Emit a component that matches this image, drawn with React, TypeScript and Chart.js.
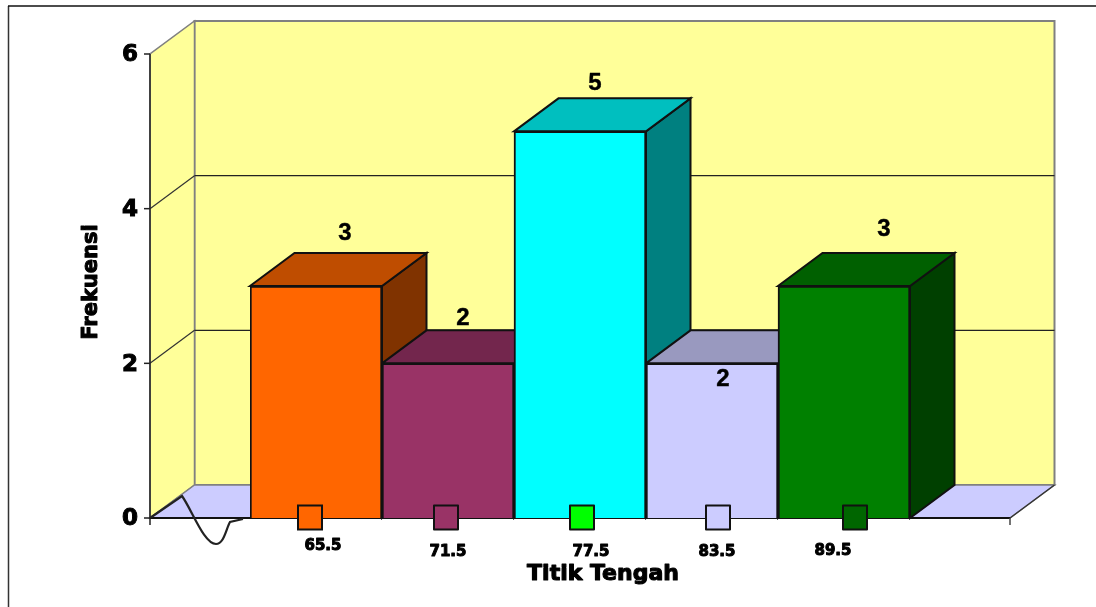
import React, { useEffect, useRef } from "react";
import { Chart, registerables } from "chart.js";

Chart.register(...registerables);

const categories = ["65.5", "71.5", "77.5", "83.5", "89.5"];
const frequencies = [3, 2, 5, 2, 3];
const yTicks = [0, 2, 4, 6];

// Faces of each column: front, top, right side
const frontColors = ["#FF6600", "#993366", "#00FFFF", "#CCCCFF", "#008000"];
const topColors = ["#BF4D00", "#73264D", "#00BFBF", "#9999BF", "#006000"];
const sideColors = ["#803300", "#4D1A33", "#008080", "#666680", "#004000"];
const keyColors = ["#FF6600", "#993366", "#00FF00", "#CCCCFF", "#006600"];

const xTitle = "Titik Tengah";
const yTitle = "Frekuensi";

// Horizontal and vertical shift of the labels relative to their column
const valueLabelNudge: [number, number][] = [
  [29, -53],
  [15, -45],
  [15, -48],
  [11, 16],
  [40, -57],
];
const keyNudge = [-6, -2, 2, 6, 11];
const categoryNudge = [7, 0, 11, 5, -11];
const categoryDrop = [28, 34, 34, 34, 33];

const DEPTH_X = 44.5;
const DEPTH_Y = -33;
const SIDE_GAP = 100;

const polygon = (ctx: CanvasRenderingContext2D, pts: number[][], fill: string | null, stroke: string | null, lw = 1.5) => {
  ctx.beginPath();
  pts.forEach(([x, y], i) => (i ? ctx.lineTo(x, y) : ctx.moveTo(x, y)));
  ctx.closePath();
  if (fill) {
    ctx.fillStyle = fill;
    ctx.fill();
  }
  if (stroke) {
    ctx.strokeStyle = stroke;
    ctx.lineWidth = lw;
    ctx.stroke();
  }
};

const segment = (ctx: CanvasRenderingContext2D, x1: number, y1: number, x2: number, y2: number, color: string, lw = 1.5) => {
  ctx.beginPath();
  ctx.moveTo(x1, y1);
  ctx.lineTo(x2, y2);
  ctx.strokeStyle = color;
  ctx.lineWidth = lw;
  ctx.stroke();
};

// Filled text with a thin outline, for the heavy label weight
const heavyText = (ctx: CanvasRenderingContext2D, text: string, x: number, y: number, weight: number) => {
  ctx.fillStyle = "#000000";
  ctx.strokeStyle = "#000000";
  ctx.lineWidth = weight;
  ctx.lineJoin = "round";
  ctx.strokeText(text, x, y);
  ctx.fillText(text, x, y);
};

const perspectivePlugin = {
  id: "perspective",
  beforeDraw(chart: any) {
    const { ctx, width, height } = chart;
    ctx.save();
    ctx.fillStyle = "#FFFFFF";
    ctx.fillRect(0, 0, width, height);
    segment(ctx, 8.5, 6, 8.5, height, "#333333", 1.5);
    segment(ctx, 8, 6, width, 6, "#111111", 1.5);
    ctx.restore();
  },
  beforeDatasetsDraw(chart: any) {
    const { ctx, chartArea, scales } = chart;
    const y = scales.y;
    const left = chartArea.left - SIDE_GAP;
    const right = chartArea.right + SIDE_GAP;
    const floorY = y.getPixelForValue(0);
    const topY = y.getPixelForValue(6);
    ctx.save();

    // back wall, left wall and floor
    polygon(ctx, [[left + DEPTH_X, topY + DEPTH_Y], [right + DEPTH_X, topY + DEPTH_Y], [right + DEPTH_X, floorY + DEPTH_Y], [left + DEPTH_X, floorY + DEPTH_Y]], "#FFFF99", "#808080", 2);
    polygon(ctx, [[left, floorY], [left, topY], [left + DEPTH_X, topY + DEPTH_Y], [left + DEPTH_X, floorY + DEPTH_Y]], "#FFFF99", "#808080", 1.5);
    polygon(ctx, [[left, floorY], [right, floorY], [right + DEPTH_X, floorY + DEPTH_Y], [left + DEPTH_X, floorY + DEPTH_Y]], "#CCCCFF", "#808080", 1.5);

    // grid lines running across both walls
    yTicks.slice(1, -1).forEach((t) => {
      const py = y.getPixelForValue(t);
      segment(ctx, left, py, left + DEPTH_X, py + DEPTH_Y, "#333333", 1.2);
      segment(ctx, left + DEPTH_X, py + DEPTH_Y, right + DEPTH_X, py + DEPTH_Y, "#222222", 1.4);
    });

    // axis lines and tick marks
    segment(ctx, left, topY, left, floorY + 7, "#222222", 1.5);
    segment(ctx, left, floorY, right, floorY, "#111111", 2);
    segment(ctx, right, floorY, right, floorY + 7, "#444444", 1.5);
    segment(ctx, right, floorY, right + DEPTH_X, floorY + DEPTH_Y, "#333333", 1.3);
    yTicks.forEach((t) => {
      const py = y.getPixelForValue(t);
      segment(ctx, left - 6, py, left, py, "#222222", 1.5);
    });

    // hand-drawn squiggle next to the origin
    ctx.beginPath();
    ctx.moveTo(left, floorY);
    ctx.lineTo(left + 32, floorY - 22);
    ctx.bezierCurveTo(left + 42, floorY - 8, left + 54, floorY + 26, left + 66, floorY + 26);
    ctx.bezierCurveTo(left + 74, floorY + 26, left + 76, floorY + 11, left + 80, floorY + 4);
    ctx.lineTo(left + 93, floorY + 1);
    ctx.strokeStyle = "#222222";
    ctx.lineWidth = 2.2;
    ctx.stroke();

    // side and top of each column, left to right, under the front faces
    const bars = chart.getDatasetMeta(0).data;
    bars.forEach((bar: any, i: number) => {
      const half = bar.width / 2;
      const l = bar.x - half;
      const r = bar.x + half;
      const t = bar.y;
      polygon(ctx, [[r, t], [r + DEPTH_X, t + DEPTH_Y], [r + DEPTH_X, floorY + DEPTH_Y], [r, floorY]], sideColors[i], "#111111", 2);
      polygon(ctx, [[l, t], [l + DEPTH_X, t + DEPTH_Y], [r + DEPTH_X, t + DEPTH_Y], [r, t]], topColors[i], "#111111", 2);
    });
    ctx.restore();
  },
  afterDatasetsDraw(chart: any) {
    const { ctx, scales } = chart;
    const floorY = scales.y.getPixelForValue(0);
    const bars = chart.getDatasetMeta(0).data;
    ctx.save();
    ctx.textAlign = "center";
    ctx.textBaseline = "middle";
    bars.forEach((bar: any, i: number) => {
      // legend key sitting on the axis
      const kx = bar.x + keyNudge[i];
      ctx.fillStyle = keyColors[i];
      ctx.fillRect(kx - 12, floorY - 12.5, 24, 24);
      ctx.strokeStyle = "#111111";
      ctx.lineWidth = 2;
      ctx.strokeRect(kx - 12, floorY - 12.5, 24, 24);

      ctx.font = "bold 15px 'DejaVu Sans'";
      heavyText(ctx, categories[i], bar.x + categoryNudge[i], floorY + categoryDrop[i], 1);

      ctx.font = "bold 24px 'Liberation Sans'";
      heavyText(ctx, String(frequencies[i]), bar.x + valueLabelNudge[i][0], bar.y + valueLabelNudge[i][1], 0.4);
    });

    // axis titles
    ctx.font = "bold 22px 'DejaVu Sans'";
    heavyText(ctx, xTitle, 603, 574, 1.1);
    ctx.save();
    ctx.translate(92, 282);
    ctx.rotate(-Math.PI / 2);
    ctx.font = "bold 21px 'DejaVu Sans'";
    heavyText(ctx, yTitle, 0, 0, 1);
    ctx.restore();
    ctx.restore();
  },
};

export default function App() {
  const ref = useRef<HTMLCanvasElement>(null);

  useEffect(() => {
    const chart = new Chart(ref.current!, {
      type: "bar",
      data: {
        labels: categories,
        datasets: [
          {
            label: yTitle,
            data: frequencies,
            backgroundColor: frontColors,
            borderColor: "#111111",
            borderWidth: 2,
            categoryPercentage: 1,
            barPercentage: 1,
          },
        ],
      },
      options: {
        animation: false,
        responsive: false,
        devicePixelRatio: 1,
        layout: { padding: { left: 0, top: 54, right: 186, bottom: 0 } },
        plugins: { legend: { display: false }, tooltip: { enabled: false } },
        scales: {
          x: {
            type: "category",
            offset: true,
            grid: { display: false },
            border: { display: false },
            ticks: { display: false },
            afterFit(scale: any) {
              scale.height = 89;
            },
          },
          y: {
            min: 0,
            max: 6,
            grid: { display: false, drawTicks: false },
            border: { display: false },
            ticks: {
              stepSize: 2,
              padding: 112,
              labelOffset: 1.5,
              color: "#000000",
              textStrokeColor: "#000000",
              textStrokeWidth: 1,
              font: { family: "'DejaVu Sans'", weight: "bold", size: 23 },
            },
            afterFit(scale: any) {
              scale.width = 250;
              // the tick label gap must not eat into the plot height
              scale.paddingTop = 0;
              scale.paddingBottom = 0;
            },
          },
        },
      },
      plugins: [perspectivePlugin],
    } as any);
    return () => chart.destroy();
  }, []);

  return (
    <canvas
      ref={ref}
      width={1096}
      height={607}
      style={{ position: "absolute", left: 0, top: 0, display: "block" }}
    />
  );
}
